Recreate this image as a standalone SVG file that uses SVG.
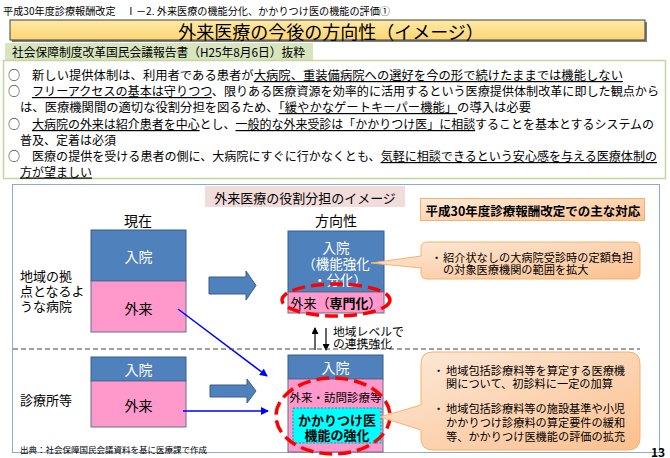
<svg xmlns="http://www.w3.org/2000/svg" width="670" height="458" viewBox="0 0 670 458">
<defs>
<style>
text{font-family:"Noto Sans CJK JP","Noto Sans",sans-serif;fill:#000;dominant-baseline:central}
.u{text-decoration:underline}
.w{fill:#fff}
.b{font-weight:bold}
.blue{fill:#4f81bd;stroke:#385d8a;stroke-width:1}
.pink{fill:#ff99cc;stroke:#5f6f8f;stroke-width:1}
.red{fill:none;stroke:#ff0000;stroke-width:3.5;stroke-dasharray:13 6}
.call{fill:url(#og);stroke:#f6b26b;stroke-width:1}
.thin{stroke:#0000ff;stroke-width:1.5;fill:none;marker-end:url(#ab)}
.blk{stroke:#000;stroke-width:1.2;fill:none;marker-end:url(#ak)}
</style>
<linearGradient id="og" x1="0" y1="0" x2="1" y2="1">
<stop offset="0" stop-color="#fdeada"/><stop offset="1" stop-color="#fbc08f"/>
</linearGradient>
<linearGradient id="yg" x1="0" y1="0" x2="0" y2="1">
<stop offset="0" stop-color="#fee9a6"/><stop offset="1" stop-color="#fcd574"/>
</linearGradient>
<marker id="ab" markerWidth="8" markerHeight="8" refX="7" refY="4" orient="auto" markerUnits="userSpaceOnUse">
<path d="M0,0 L8,4 L0,8 z" fill="#0000ff"/>
</marker>
<marker id="ak" markerWidth="7" markerHeight="7" refX="6" refY="3.5" orient="auto" markerUnits="userSpaceOnUse">
<path d="M0,0 L7,3.5 L0,7 z" fill="#000"/>
</marker>
</defs>
<rect width="670" height="458" fill="#fff"/>

<g id="header">
<text x="3" y="10" font-size="10" textLength="387" lengthAdjust="spacingAndGlyphs">平成30年度診療報酬改定　Ⅰ－2. 外来医療の機能分化、かかりつけ医の機能の評価①</text>
<rect x="12" y="22" width="635" height="20" fill="#808080"/>
<rect x="10" y="20" width="635" height="20" fill="url(#yg)" stroke="#404040" stroke-width="1"/>
<text x="331" y="31" font-size="18" text-anchor="middle">外来医療の今後の方向性（イメージ）</text>
</g>

<g id="report">
<rect x="5" y="43" width="308" height="17" fill="#d7e4bd"/>
<text x="12" y="52" font-size="12.3" textLength="293" lengthAdjust="spacingAndGlyphs">社会保障制度改革国民会議報告書（H25年8月6日）抜粋</text>
<rect x="3.5" y="60.5" width="662" height="118" fill="#fff" stroke="#c3d69b" stroke-width="1.5"/>
<text x="8" y="74" font-size="12">○</text>
<text x="32" y="74" font-size="12" textLength="591" lengthAdjust="spacingAndGlyphs">新しい提供体制は、利用者である患者が<tspan class="u">大病院、重装備病院への選好を今の形で続けたままでは機能しない</tspan></text>
<text x="8" y="90" font-size="12">○</text>
<text x="32" y="90" font-size="12" textLength="627" lengthAdjust="spacingAndGlyphs"><tspan class="u">フリーアクセスの基本は守りつつ</tspan>、限りある医療資源を効率的に活用するという医療提供体制改革に即した観点から</text>
<text x="20" y="106" font-size="12" textLength="511" lengthAdjust="spacingAndGlyphs">は、医療機関間の適切な役割分担を図るため、<tspan class="u">「緩やかなゲートキーパー機能」</tspan>の導入は必要</text>
<text x="8" y="123" font-size="12">○</text>
<text x="32" y="123" font-size="12" textLength="622" lengthAdjust="spacingAndGlyphs"><tspan class="u">大病院の外来は紹介患者を中心</tspan>とし、<tspan class="u">一般的な外来受診は「かかりつけ医」に相談</tspan>することを基本とするシステムの</text>
<text x="20" y="139" font-size="12">普及、定着は必須</text>
<text x="8" y="155" font-size="12">○</text>
<text x="32" y="155" font-size="12" textLength="625" lengthAdjust="spacingAndGlyphs">医療の提供を受ける患者の側に、大病院にすぐに行かなくとも、<tspan class="u">気軽に相談できるという安心感を与える医療体制の</tspan></text>
<text x="20" y="171" font-size="12" class="u">方が望ましい</text>
</g>

<g id="panel">
<rect x="12.5" y="184.5" width="647" height="268" fill="#fff" stroke="#8ea9cf" stroke-width="1"/>
<rect x="205" y="186" width="200" height="21" fill="#f2dcdb"/>
<text x="305" y="197" font-size="13" text-anchor="middle">外来医療の役割分担のイメージ</text>
<text x="138" y="220" font-size="14" text-anchor="middle">現在</text>
<text x="336" y="220" font-size="14" text-anchor="middle">方向性</text>
<text font-size="13"><tspan x="20" y="275">地域の拠</tspan><tspan x="20" y="290">点となるよ</tspan><tspan x="20" y="305">うな病院</tspan></text>
<text x="20" y="399" font-size="13">診療所等</text>
<text x="20" y="449" font-size="8.5">出典：社会保障国民会議資料を基に医療課で作成</text>
<text x="651" y="451" font-size="12" class="b">13</text>
</g>

<g id="policy-header">
<rect x="420.5" y="198.5" width="224" height="22" fill="url(#og)" stroke="#f6b26b" stroke-width="1"/>
<text x="533" y="210" font-size="12.5" class="b" text-anchor="middle">平成30年度診療報酬改定での主な対応</text>
</g>

<g id="hospital-now">
<rect class="blue" x="91" y="230" width="95" height="51"/>
<rect class="pink" x="91" y="281" width="95" height="51"/>
<text class="w" x="138.5" y="256" font-size="14" text-anchor="middle">入院</text>
<text x="138.5" y="308" font-size="14" text-anchor="middle">外来</text>
</g>

<g id="hospital-future">
<rect class="blue" x="288" y="231" width="96" height="61"/>
<rect class="pink" x="288" y="292" width="96" height="21"/>
<text class="w" font-size="13.5" text-anchor="middle"><tspan x="336" y="247">入院</tspan><tspan x="336" y="263">（機能強化</tspan><tspan x="340" y="279">・分化）</tspan></text>
<text x="336" y="302" font-size="13" text-anchor="middle">外来（<tspan class="b">専門化</tspan>）</text>
<ellipse class="red" cx="336" cy="300" rx="54" ry="16"/>
</g>

<g id="clinic-now">
<rect class="blue" x="91" y="357" width="95" height="24"/>
<rect class="pink" x="91" y="381" width="95" height="46"/>
<text class="w" x="138.5" y="369" font-size="14" text-anchor="middle">入院</text>
<text x="138.5" y="405" font-size="14" text-anchor="middle">外来</text>
</g>

<g id="clinic-future">
<rect class="blue" x="288" y="355" width="95" height="24"/>
<rect class="pink" x="288" y="379" width="95" height="73"/>
<text class="w" x="335.5" y="367" font-size="14" text-anchor="middle">入院</text>
<text x="335.5" y="397" font-size="11.5" text-anchor="middle">外来・訪問診療等</text>
<rect x="293" y="408" width="88" height="35" fill="#00ffff" stroke="#31859c" stroke-width="1" stroke-dasharray="2 1.5"/>
<text font-size="13" class="b" text-anchor="middle"><tspan x="337" y="419">かかりつけ医</tspan><tspan x="337" y="434">機能の強化</tspan></text>
<ellipse class="red" cx="333" cy="416" rx="57" ry="38"/>
</g>

<g id="callout-hospital">
<path class="call" d="M427,242 H634 Q640,242 640,248 V273 Q640,279 634,279 H427 Q421,279 421,273 V268 L371,263 L421,256 V248 Q421,242 427,242 Z"/>
<text font-size="11.2"><tspan x="431" y="257">・</tspan><tspan x="443" y="257">紹介状なしの大病院受診時の定額負担</tspan><tspan x="443" y="269">の対象医療機関の範囲を拡大</tspan></text>
</g>

<g id="callout-clinic">
<path class="call" d="M433,352 H628 Q640,352 640,364 V438 Q640,450 628,450 H433 Q421,450 421,438 V430 L380,417 L421,405 V364 Q421,352 433,352 Z"/>
<text font-size="11.2"><tspan x="433" y="370">・</tspan><tspan x="446" y="370">地域包括診療料等を算定する医療機</tspan><tspan x="446" y="383">関について、初診料に一定の加算</tspan></text>
<text font-size="11.2"><tspan x="433" y="408">・</tspan><tspan x="446" y="408">地域包括診療料等の施設基準や小児</tspan><tspan x="446" y="422">かかりつけ診療料の算定要件の緩和</tspan><tspan x="446" y="436">等、かかりつけ医機能の評価の拡充</tspan></text>
</g>

<g id="connectors">
<path class="blue" d="M209,277 H246 V271 L256,285.5 L246,300 V294 H209 Z"/>
<path class="blue" d="M210,385 H247 V379 L256,391 L247,403 V397 H210 Z"/>
<line class="thin" x1="178" y1="309" x2="267" y2="376"/>
<line class="thin" x1="183" y1="411" x2="268" y2="411"/>
<line class="blk" x1="315" y1="350" x2="315" y2="328"/>
<line class="blk" x1="326" y1="328" x2="326" y2="350"/>
<line x1="13" y1="349" x2="640" y2="349" stroke="#404040" stroke-width="1" stroke-dasharray="5 3"/>
<text font-size="11.8"><tspan x="333" y="330">地域レベルで</tspan><tspan x="333" y="342">の連携強化</tspan></text>
</g>
</svg>
